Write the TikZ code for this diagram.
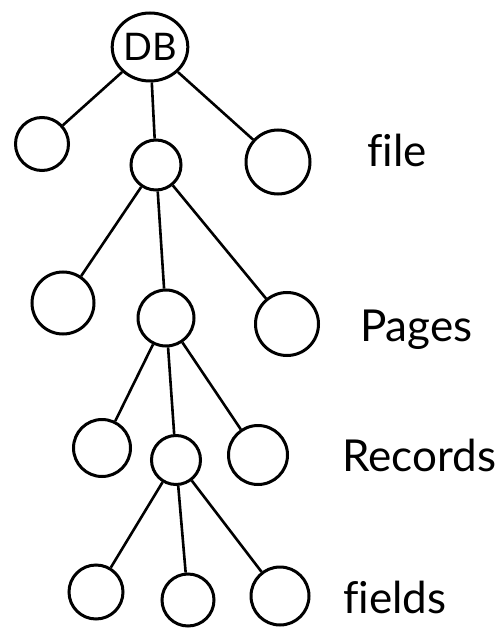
\documentclass[tikz,border=0pt]{standalone}
\usepackage{fontspec}
\setmainfont{Lato}[Ligatures=NoCommon]
\usetikzlibrary{shapes.geometric}
\begin{document}
\begin{tikzpicture}[x=1pt,y=-1pt,
  nd/.style={circle,draw,line width=3pt,inner sep=0pt},
  ed/.style={line width=2.6pt},
  lab/.style={anchor=west,font=\fontsize{44}{48}\selectfont,inner sep=0pt}]
\useasboundingbox (0,0) rectangle (503,628);
% root
\node[nd,ellipse,minimum width=74pt,minimum height=68pt,font=\fontsize{38}{40}\selectfont] at (150,47) (db) {DB};
% level 1
\node[nd,minimum size=53pt] at (42,144) (a1) {};
\node[nd,minimum size=50pt] at (156,165) (a2) {};
\node[nd,minimum size=64pt] at (278,162) (a3) {};
% level 2
\node[nd,minimum size=62pt] at (63,303) (b1) {};
\node[nd,minimum size=56pt] at (166,318) (b2) {};
\node[nd,minimum size=63pt] at (287,324) (b3) {};
% level 3
\node[nd,minimum size=57pt] at (102,448) (c1) {};
\node[nd,minimum size=49pt] at (176,460) (c2) {};
\node[nd,minimum size=59pt] at (258,455) (c3) {};
% level 4
\node[nd,minimum size=54pt] at (96,592) (d1) {};
\node[nd,minimum size=52pt] at (188,600) (d2) {};
\node[nd,minimum size=58pt] at (280,596) (d3) {};
% edges
\draw[ed] (db) -- (a1);
\draw[ed] (db) -- (a2);
\draw[ed] (db) -- (a3);
\draw[ed] (a2) -- (b1);
\draw[ed] (a2) -- (b2);
\draw[ed] (a2) -- (b3);
\draw[ed] (b2) -- (c1);
\draw[ed] (b2) -- (c2);
\draw[ed] (b2) -- (c3);
\draw[ed] (c2) -- (d1);
\draw[ed] (c2) -- (d2);
\draw[ed] (c2) -- (d3);
% labels
\node[lab] at (367,150) (l1) {file};
\node[lab] at (360,330) (l2) {Pages};
\node[lab] at (342,455) (l3) {Records};
\node[lab] at (343,597) (l4) {fields};
\end{tikzpicture}
\end{document}
